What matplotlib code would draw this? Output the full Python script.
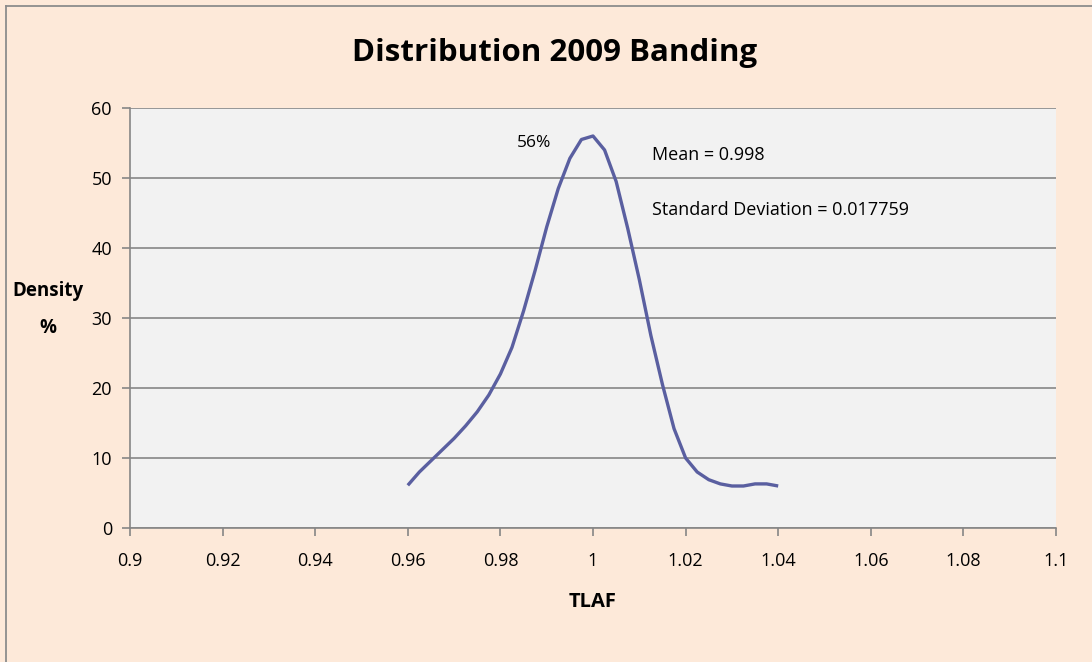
import matplotlib
matplotlib.use("Agg")
import matplotlib.pyplot as plt
from matplotlib.lines import Line2D
from matplotlib.ticker import FixedLocator

tlaf = [0.96, 0.9625, 0.965, 0.9675, 0.97, 0.9725, 0.975, 0.9775, 0.98, 0.9825,
        0.985, 0.9875, 0.99, 0.9925, 0.995, 0.9975, 1.0, 1.0025, 1.005, 1.0075,
        1.01, 1.0125, 1.015, 1.0175, 1.02, 1.0225, 1.025, 1.0275, 1.03, 1.0325,
        1.035, 1.0375, 1.04]
density = [6.1, 8.0, 9.6, 11.2, 12.8, 14.6, 16.6, 19.0, 22.0, 25.8,
           31.0, 36.8, 43.0, 48.5, 52.8, 55.5, 56.0, 54.0, 49.5, 42.8,
           35.5, 27.5, 20.5, 14.2, 10.0, 8.0, 6.9, 6.3, 6.0, 6.0,
           6.3, 6.3, 6.0]
x_ticks = [0.9, 0.92, 0.94, 0.96, 0.98, 1.0, 1.02, 1.04, 1.06, 1.08, 1.1]
x_tick_labels = ["0.9", "0.92", "0.94", "0.96", "0.98", "1", "1.02", "1.04", "1.06", "1.08", "1.1"]
y_ticks = [0, 10, 20, 30, 40, 50, 60]

plt.rcParams['font.family'] = ['Open Sans', 'DejaVu Sans']

W, H = 1092, 662
fig = plt.figure(figsize=(W / 100, H / 100), dpi=100)
fig.patch.set_facecolor('#FDE9D9')
fig.lines.append(Line2D([5.5 / W, 5.5 / W], [0, 1 - 6 / H], transform=fig.transFigure,
                        color='#8C8C8C', linewidth=1.3))
fig.lines.append(Line2D([5.5 / W, 1], [1 - 6 / H, 1 - 6 / H], transform=fig.transFigure,
                        color='#8C8C8C', linewidth=1.3))

ax = fig.add_axes([130 / W, 1 - 528 / H, (1056 - 130) / W, (528 - 108) / H])
ax.set_facecolor('#F2F2F2')
ax.plot(tlaf, density, color='#5A5FA0', linewidth=2.4, solid_capstyle='butt', zorder=3)

ax.set_xlim(0.9, 1.1)
ax.set_ylim(0, 60)
ax.xaxis.set_major_locator(FixedLocator(x_ticks))
ax.set_xticklabels(x_tick_labels)
ax.yaxis.set_major_locator(FixedLocator(y_ticks))
ax.grid(axis='y', color='#868686', linewidth=1.2)
ax.set_axisbelow(True)
for s in ['top', 'right']:
    ax.spines[s].set_visible(False)
for s in ['left', 'bottom']:
    ax.spines[s].set_color('#868686')
    ax.spines[s].set_linewidth(1.2)
ax.tick_params(axis='both', colors='#868686', labelcolor='black', labelsize=13,
               length=6, width=1.2, direction='out')
ax.tick_params(axis='x', pad=11)
ax.tick_params(axis='y', pad=7)

fig.text(555 / W, 1 - 53 / H, "Distribution 2009 Banding", ha='center', va='center',
         fontsize=22.5, fontweight='bold')
fig.text(593 / W, 1 - 602 / H, "TLAF", ha='center', va='center', fontsize=14.5, fontweight='bold')
fig.text(48 / W, 1 - 291 / H, "Density", ha='center', va='center', fontsize=13.5, fontweight='bold')
fig.text(48 / W, 1 - 328 / H, "%", ha='center', va='center', fontsize=13.5, fontweight='bold')

ax.text(0.9909, 55.0, "56%", ha='right', va='center', fontsize=12.5)
ax.text(1.0127, 53.3, "Mean = 0.998", ha='left', va='center', fontsize=13)
ax.text(1.0127, 45.4, "Standard Deviation = 0.017759", ha='left', va='center', fontsize=13)

fig.savefig("out.png", dpi=100, facecolor=fig.get_facecolor())
